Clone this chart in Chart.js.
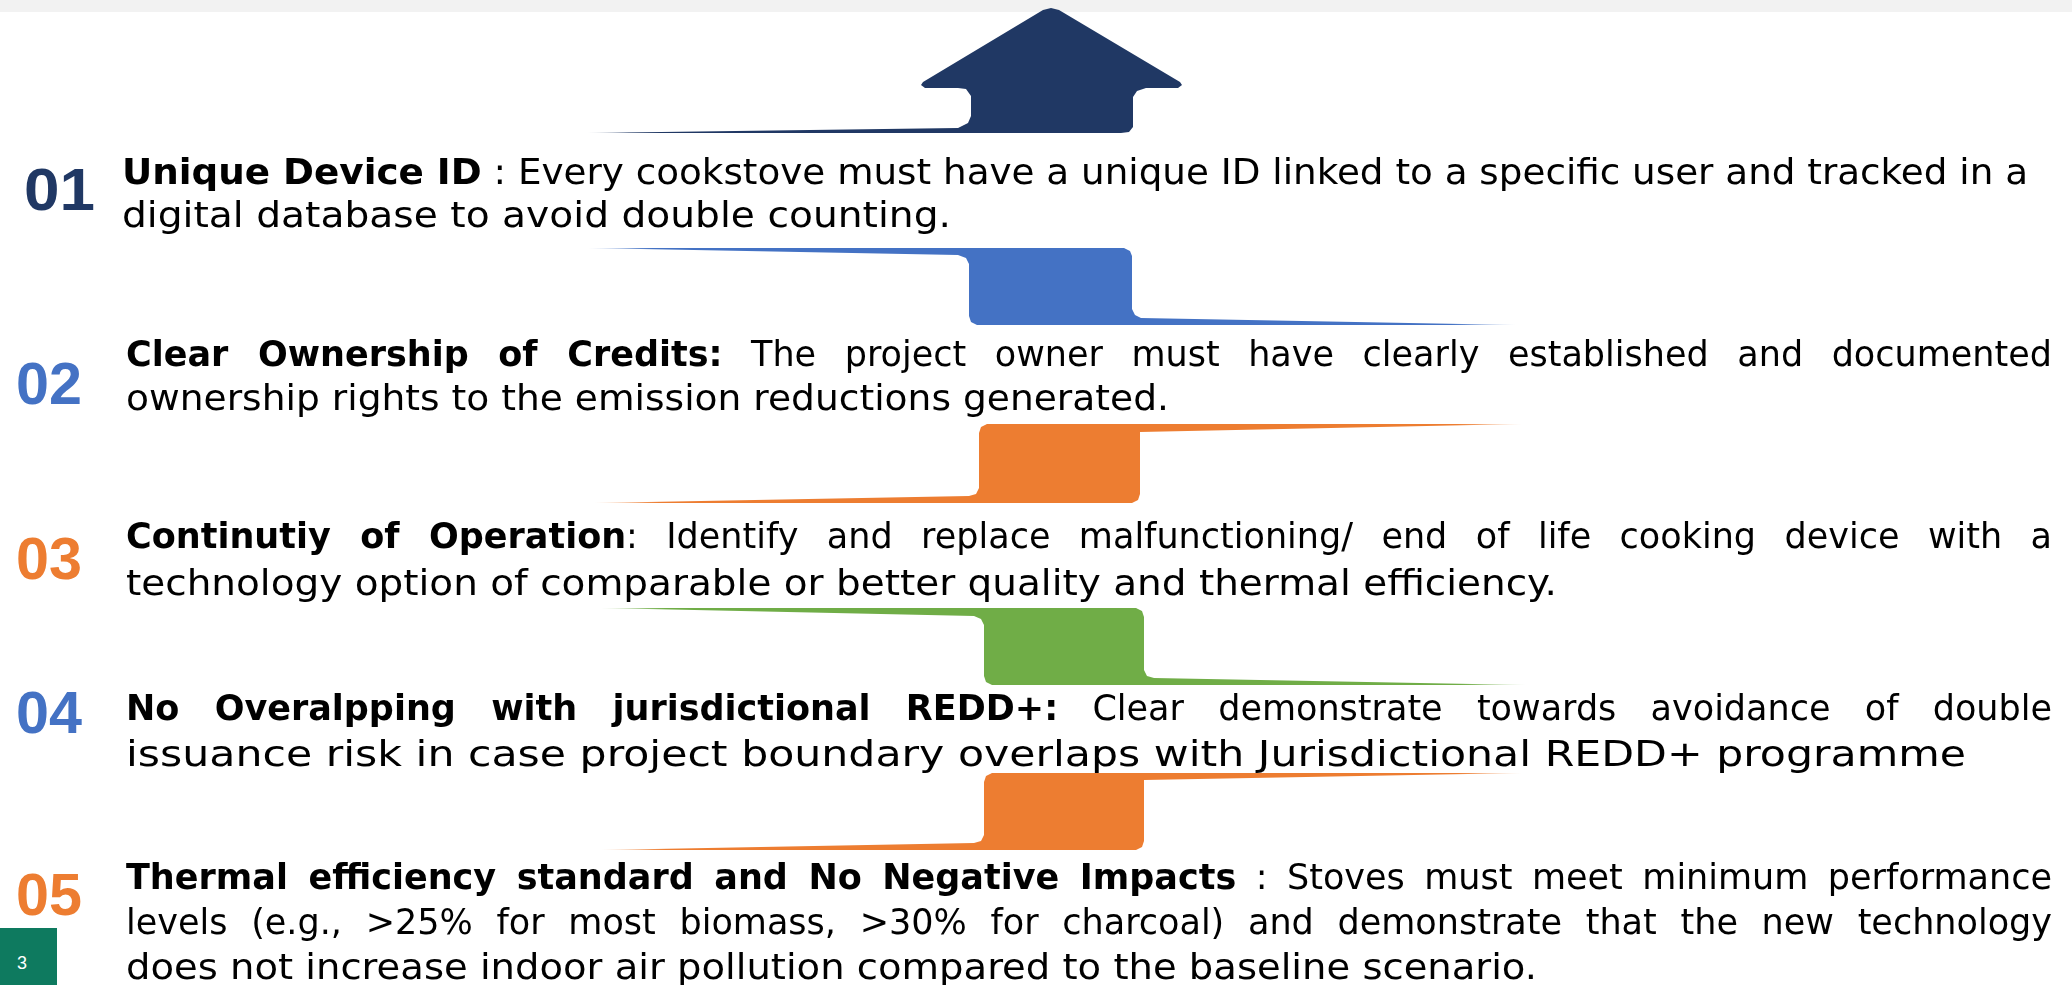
<!DOCTYPE html>
<html><head><meta charset="utf-8">
<script src="https://cdn.jsdelivr.net/npm/chart.js@4.4.1/dist/chart.umd.min.js"></script>
<style>
html,body{margin:0;padding:0;background:#fff;width:2072px;height:985px;overflow:hidden;position:relative;}
#topbar{position:absolute;left:0;top:0;width:2072px;height:12px;background:#f2f2f2;}
#c{position:absolute;left:0;top:0;}
.num{position:absolute;font-family:"Liberation Sans",Arial,sans-serif;font-weight:700;font-size:60px;line-height:1;white-space:nowrap;transform-origin:0 100%;}
.ln{position:absolute;font-family:"DejaVu Sans",sans-serif;font-size:35px;line-height:1;white-space:nowrap;color:#000;transform-origin:0 0;}
.ln b{font-weight:700;}
.mk{display:inline-block;width:0;height:0;vertical-align:baseline;}
#pg{position:absolute;left:0;top:928px;width:57px;height:57px;background:#0e7a5f;}
#pgn{position:absolute;left:17px;top:0;color:#fff;font:18px "Liberation Sans",Arial,sans-serif;white-space:nowrap;}
</style>
</head>
<body>
<div id="topbar"></div>
<canvas id="c" width="2072" height="985"></canvas>
<div id="pg"></div>
<script>
// ---- content ----
const pageNumber = '3';
const itemNumbers = ['01','02','03','04','05'];
const itemColors = ['#203864','#4472c4','#ed7d31','#4472c4','#ed7d31'];
const itemHeadings = [
  'Unique Device ID',
  'Clear Ownership of Credits:',
  'Continutiy of Operation',
  'No Overalpping with jurisdictional REDD+:',
  'Thermal efficiency standard and No Negative Impacts'
];
const itemBodies = [
  [' : Every cookstove must have a unique ID linked to a specific user and tracked in a', 'digital database to avoid double counting.'],
  [' The project owner must have clearly established and documented', 'ownership rights to the emission reductions generated.'],
  [': Identify and replace malfunctioning/ end of life cooking device with a', 'technology option of comparable or better quality and thermal efficiency.'],
  [' Clear demonstrate towards avoidance of double', 'issuance risk in case project boundary overlaps with Jurisdictional REDD+ programme'],
  [' : Stoves must meet minimum performance', 'levels (e.g., >25% for most biomass, >30% for charcoal) and demonstrate that the new technology', 'does not increase indoor air pollution compared to the baseline scenario.']
];

// ---- decorative shape outlines (slide units: x 0-2072, y 0-985 from top) ----
const arrowOutline = [[587,133],[958,128],[968,123],[971,116],[971,96],[966,89],[958,88],[925,88],[921,85],[923,82],[1043,10],[1051,8],[1059,10],[1180,82],[1182,85],[1178,88],[1146,88],[1137,91],[1133,97],[1133,127],[1129,132],[1121,133],[587,133]];
const ribbon2Outline = [[588,248],[1124,248],[1130,251],[1132,256],[1132,309],[1135,315],[1141,318],[1516,325],[977,325],[971,322],[969,316],[969,264],[966,258],[958,255],[588,248]];
const ribbon3Outline = [[594,503],[1132,503],[1138,500],[1140,494],[1140,432],[1522,424],[987,424],[981,427],[979,433],[979,488],[976,494],[969,496],[594,503]];
const ribbon4Outline = [[601,608],[1136,608],[1142,611],[1144,617],[1144,670],[1147,676],[1154,678],[1526,685],[992,685],[986,682],[984,676],[984,625],[981,619],[974,616],[601,608]];
const ribbon5Outline = [[601,850],[1136,850],[1142,847],[1144,841],[1144,780],[1522,773],[992,773],[986,776],[984,782],[984,835],[981,841],[974,843],[601,850]];
const shapeOutlines = [arrowOutline, ribbon2Outline, ribbon3Outline, ribbon4Outline, ribbon5Outline];
const shapeColors = ['#203864','#4472c4','#ed7d31','#70ad47','#ed7d31'];
const shapeFade = ['left','both','both','both','both'];

function hexA(h,a){const r=parseInt(h.slice(1,3),16),g=parseInt(h.slice(3,5),16),b=parseInt(h.slice(5,7),16);return `rgba(${r},${g},${b},${a})`;}

const datasets = shapeOutlines.map((pts,i)=>({
  data: pts.map(p=>({x:p[0],y:p[1]})),
  showLine:true, fill:'shape', borderWidth:0, pointRadius:0, tension:0,
  borderColor:'rgba(0,0,0,0)',
  backgroundColor:(ctx)=>{
    const ch=ctx.chart; if(!ch.chartArea) return shapeColors[i];
    const xs=ch.scales.x; const xsVals=pts.map(p=>p[0]);
    const x0=xs.getPixelForValue(Math.min(...xsVals)), x1=xs.getPixelForValue(Math.max(...xsVals));
    const g=ch.ctx.createLinearGradient(x0,0,x1,0); const c=shapeColors[i];
    g.addColorStop(0,hexA(c,0.25)); g.addColorStop(0.07,hexA(c,1));
    if(shapeFade[i]==='both'){g.addColorStop(0.93,hexA(c,1)); g.addColorStop(1,hexA(c,0.25));}
    else g.addColorStop(1,hexA(c,1));
    return g;
  }
}));

new Chart(document.getElementById('c'),{
  type:'scatter',
  data:{datasets},
  options:{responsive:false,animation:false,events:[],
    layout:{padding:0},
    plugins:{legend:{display:false},tooltip:{enabled:false}},
    scales:{x:{type:'linear',min:0,max:2072,display:false},y:{type:'linear',min:0,max:985,reverse:true,display:false}}
  }
});

// ---- text layout ----
const numLayout = [[24,210,71],[16,404,66],[16,579,66],[16,733,66],[16,915,66]];
const lineLayout = [
  [[122,184,1906,false],[122,227,829,false]],
  [[126,366,1926,true],[126,410,1043,false]],
  [[126,548,1926,true],[126,595,1431,false]],
  [[126,720,1926,true],[126,766,1840,false]],
  [[126,889,1926,true],[126,934,1926,true],[126,979,1411,false]]
];

function placeBaseline(el, left, baseline, parent){
  el.style.left=left+'px'; el.style.top='0px';
  (parent||document.body).appendChild(el);
  const mk=el.querySelector('.mk');
  const by=mk.getBoundingClientRect().top - (parent?parent.getBoundingClientRect().top:0);
  el.style.top=(baseline-by)+'px';
}

itemNumbers.forEach((n,i)=>{
  const d=document.createElement('div'); d.className='num'; d.style.color=itemColors[i];
  const s=document.createElement('span'); s.textContent=n; d.appendChild(s);
  const mk=document.createElement('span'); mk.className='mk'; d.appendChild(mk);
  placeBaseline(d, numLayout[i][0], numLayout[i][1]);
  const nat=s.getBoundingClientRect().width;
  d.style.transform='scaleX('+(numLayout[i][2]/nat)+')';
});

itemBodies.forEach((body,i)=>{
  body.forEach((txt,j)=>{
    const [x,b,w,just]=lineLayout[i][j];
    const d=document.createElement('div'); d.className='ln';
    const span=document.createElement('span');
    if(j===0){const bb=document.createElement('b'); bb.textContent=itemHeadings[i]; span.appendChild(bb);}
    span.appendChild(document.createTextNode(txt));
    d.appendChild(span);
    const mk=document.createElement('span'); mk.className='mk'; d.appendChild(mk);
    placeBaseline(d,x,b);
    const nat=span.getBoundingClientRect().width;
    if(just && nat<w){
      const spaces=(span.textContent.match(/ /g)||[]).length;
      d.style.wordSpacing=((w-nat)/spaces)+'px';
    } else {
      d.style.transform='scaleX('+(w/nat)+')';
    }
  });
});

// page number
const pg=document.getElementById('pg');
const pn=document.createElement('div'); pn.id='pgn';
pn.innerHTML=pageNumber+'<span class="mk"></span>';
placeBaseline(pn,17,41,pg);
</script>
</body></html>
